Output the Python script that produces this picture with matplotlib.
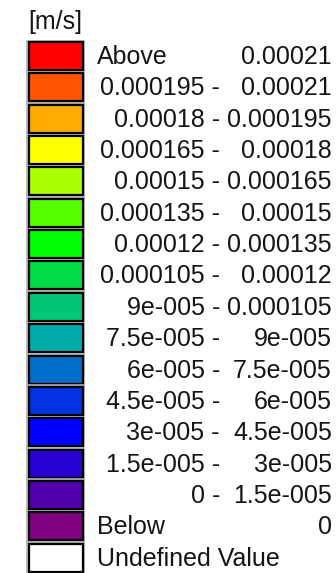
import matplotlib.pyplot as plt
from matplotlib.patches import Rectangle

# Clases de velocidad [m/s]
lower = ['Above', '0.000195', '0.00018', '0.000165', '0.00015', '0.000135',
         '0.00012', '0.000105', '9e-005', '7.5e-005', '6e-005', '4.5e-005',
         '3e-005', '1.5e-005', '0', 'Below', 'Undefined Value']
upper = ['0.00021', '0.00021', '0.000195', '0.00018', '0.000165', '0.00015',
         '0.000135', '0.00012', '0.000105', '9e-005', '7.5e-005', '6e-005',
         '4.5e-005', '3e-005', '1.5e-005', '0', '']
colores = ['#ff0000', '#ff5500', '#ffaa00', '#ffff00', '#aaff00', '#55ff00',
           '#00ff00', '#00dd44', '#00c878', '#00aaaa', '#006ec8', '#0032e1',
           '#0000ff', '#2800d2', '#5000aa', '#800080', '#ffffff']

W, H = 336, 573
fig = plt.figure(figsize=(W / 100, H / 100), dpi=100)
ax = fig.add_axes([0, 0, 1, 1])
ax.set_xlim(0, W)
ax.set_ylim(H, 0)
ax.axis('off')

fuente = dict(family='Liberation Sans', fontsize=18, color='#151515')

ax.text(28, 22, '[m/s]', ha='left', va='center', **fuente)

y0, paso, alto = 41.5, 31.35, 29
for i, (lo, hi, c) in enumerate(zip(lower, upper, colores)):
    top = y0 + paso * i
    # marco gris exterior y cuadro de color con borde negro
    ax.add_patch(Rectangle((27, top - 1), 57, alto + 2, facecolor='none',
                           edgecolor='#b0b0b0', linewidth=1.2))
    ax.add_patch(Rectangle((28.5, top + 0.5), 54, alto - 1, facecolor=c,
                           edgecolor='black', linewidth=1.6))
    yc = top + alto / 2 + 1
    if lo in ('Above', 'Below', 'Undefined Value'):
        ax.text(97, yc, lo, ha='left', va='center', **fuente)
    else:
        ax.text(220, yc, lo + ' -', ha='right', va='center', **fuente)
    if hi:
        ax.text(332, yc, hi, ha='right', va='center', **fuente)

fig.savefig('out.png', dpi=100)
